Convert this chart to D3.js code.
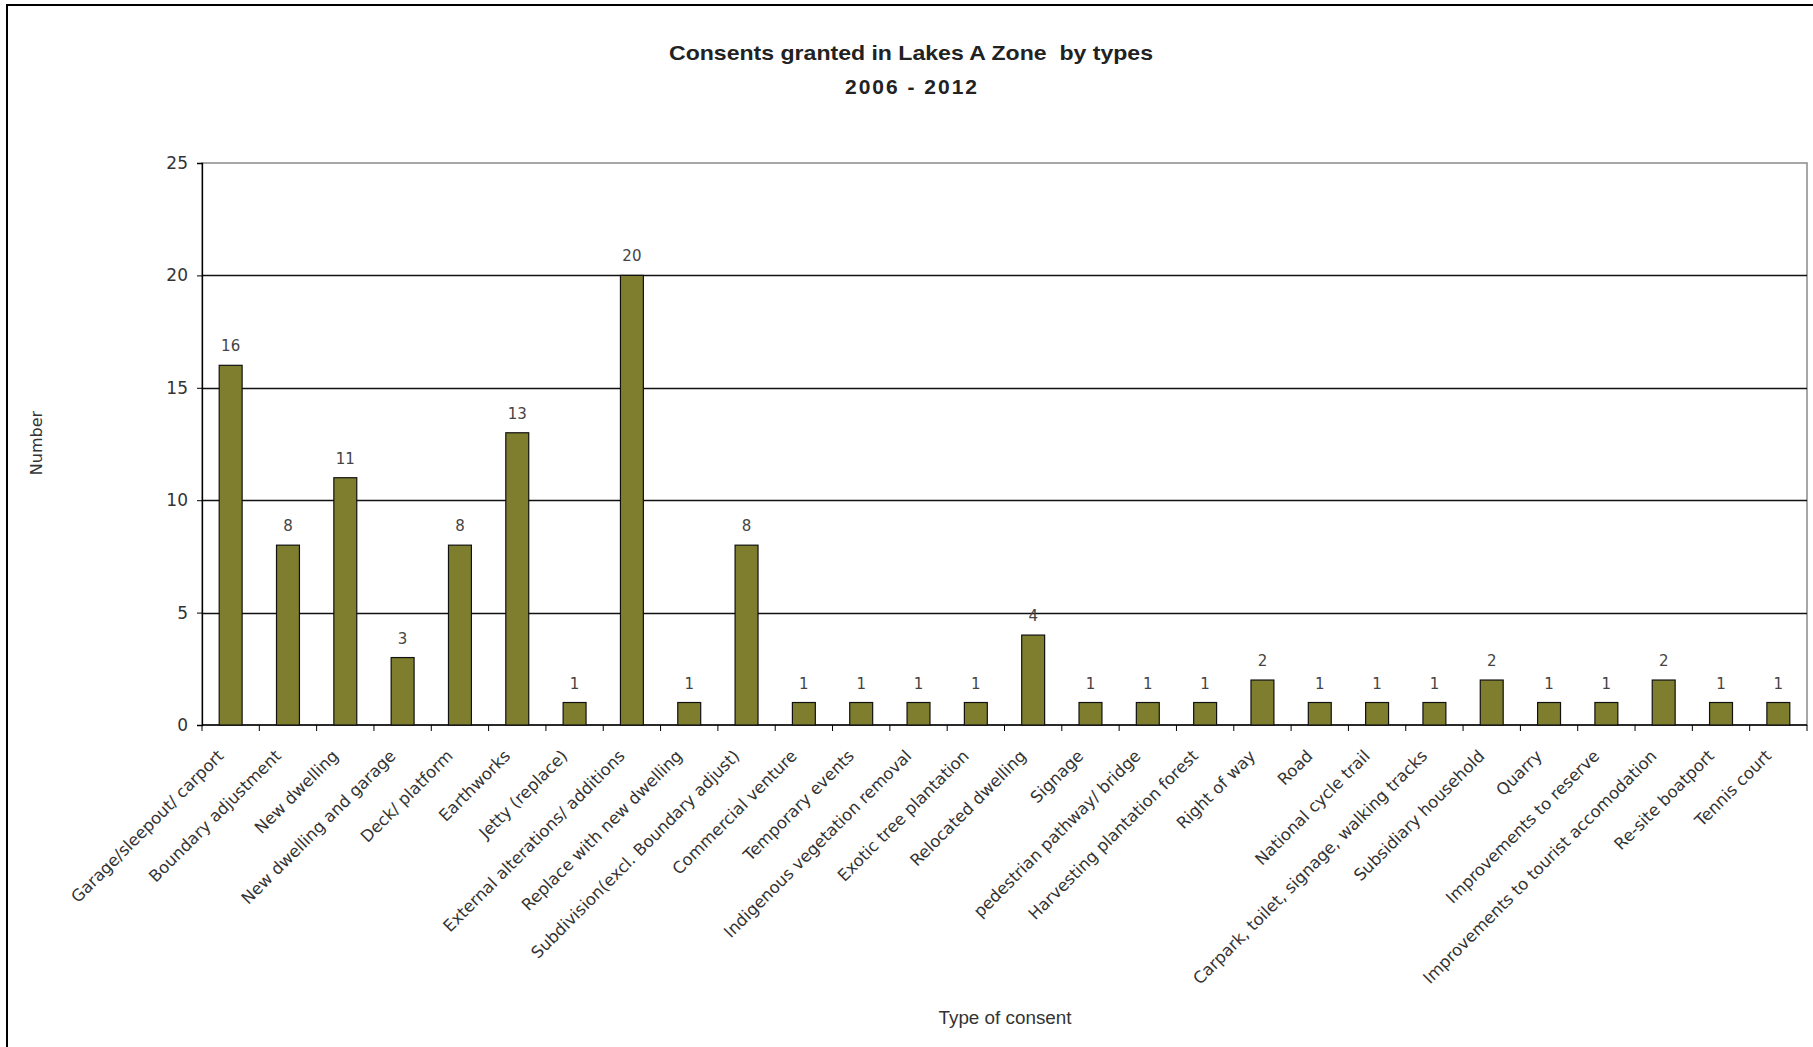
<!DOCTYPE html>
<html>
<head>
<meta charset="utf-8">
<script src="https://cdn.jsdelivr.net/npm/d3@7"></script>
<style>
  body { margin: 0; background: #fff; }
  text { fill: #222; }
</style>
</head>
<body>
<div id="chart"></div>
<script>
// consents granted, one bar per type
var categories = [
  'Garage/sleepout/ carport', 'Boundary adjustment', 'New dwelling', 'New dwelling and garage',
  'Deck/ platform', 'Earthworks', 'Jetty (replace)', 'External alterations/ additions',
  'Replace with new dwelling', 'Subdivision(excl. Boundary adjust)', 'Commercial venture',
  'Temporary events', 'Indigenous vegetation removal', 'Exotic tree plantation',
  'Relocated dwelling', 'Signage', 'pedestrian pathway/ bridge', 'Harvesting plantation forest',
  'Right of way', 'Road', 'National cycle trail', 'Carpark, toilet, signage, walking tracks',
  'Subsidiary household', 'Quarry', 'Improvements to reserve',
  'Improvements to tourist accomodation', 'Re-site boatport', 'Tennis court'
];
var values = [16, 8, 11, 3, 8, 13, 1, 20, 1, 8, 1, 1, 1, 1, 4, 1, 1, 1, 2, 1, 1, 1, 2, 1, 1, 2, 1, 1];
var yTicks = [0, 5, 10, 15, 20, 25];

var w = 1813;
var h = 1047;
var margin = {top: 163, right: 6, bottom: 322, left: 202};

var svg = d3.select('#chart')
  .append('svg')
  .attr('width', w)
  .attr('height', h);

// outer chart frame (cut off at right and bottom like the picture)
svg.append('rect')
  .attr('x', 7).attr('y', 5)
  .attr('width', w + 20).attr('height', h + 20)
  .attr('fill', 'none')
  .attr('stroke', '#000')
  .attr('stroke-width', 2);

var x = d3.scaleBand()
  .domain(categories)
  .range([margin.left, w - margin.right])
  .paddingInner(0.6)
  .paddingOuter(0.3);

var y = d3.scaleLinear()
  .domain([0, 25])
  .range([h - margin.bottom, margin.top]);

// plot area border
svg.append('rect')
  .attr('x', margin.left).attr('y', y(25))
  .attr('width', w - margin.right - margin.left)
  .attr('height', y(0) - y(25))
  .attr('fill', 'none')
  .attr('stroke', '#8a8a8a')
  .attr('stroke-width', 1.5);

// gridlines
svg.append('g')
  .selectAll('line')
  .data(yTicks.filter(d => d > 0 && d < 25))
  .enter()
  .append('line')
  .attr('x1', margin.left)
  .attr('x2', w - margin.right)
  .attr('y1', d => Math.round(y(d)) + 0.5)
  .attr('y2', d => Math.round(y(d)) + 0.5)
  .attr('stroke', '#111')
  .attr('stroke-width', 1.4);

// y axis
var yAxis = d3.axisLeft(y)
  .tickValues(yTicks)
  .tickSize(5)
  .tickPadding(9);

var gy = svg.append('g')
  .attr('transform', 'translate(' + margin.left + ',0)')
  .call(yAxis);
gy.select('.domain').attr('stroke', '#000').attr('stroke-width', 1.3);
gy.selectAll('.tick line').attr('stroke', '#000');
gy.selectAll('.tick text')
  .attr('font-family', 'DejaVu Sans, Verdana, sans-serif')
  .attr('font-size', 17)
  .style('fill', '#333');

// x axis: ticks sit between the categories
var step = x.step();
var edges = d3.range(categories.length + 1).map(i => margin.left + i * step);

svg.append('line')
  .attr('x1', margin.left).attr('x2', w - margin.right)
  .attr('y1', y(0)).attr('y2', y(0))
  .attr('stroke', '#000').attr('stroke-width', 1.5);

svg.append('g')
  .selectAll('line')
  .data(edges)
  .enter()
  .append('line')
  .attr('x1', d => d).attr('x2', d => d)
  .attr('y1', y(0)).attr('y2', y(0) + 6)
  .attr('stroke', '#000');

// bars
svg.append('g')
  .selectAll('rect')
  .data(values)
  .enter()
  .append('rect')
  .attr('x', (d, i) => x(categories[i]))
  .attr('y', d => y(d))
  .attr('width', x.bandwidth())
  .attr('height', d => y(0) - y(d))
  .attr('fill', '#7e7e2e')
  .attr('stroke', '#111')
  .attr('stroke-width', 1.2);

// value labels
svg.append('g')
  .selectAll('text')
  .data(values)
  .enter()
  .append('text')
  .text(d => d)
  .attr('x', (d, i) => x(categories[i]) + x.bandwidth() / 2)
  .attr('y', d => y(d) - 14)
  .attr('text-anchor', 'middle')
  .attr('font-family', 'DejaVu Sans, Verdana, sans-serif')
  .attr('font-size', 15)
  .style('fill', '#444');

// category labels, rotated
svg.append('g')
  .selectAll('text')
  .data(categories)
  .enter()
  .append('text')
  .text(d => d)
  .attr('text-anchor', 'end')
  .attr('font-family', 'DejaVu Sans, Verdana, sans-serif')
  .attr('font-size', 16.5)
  .style('fill', '#333')
  .attr('transform', d => {
    var cx = x(d) + x.bandwidth() / 2 - 6;
    var cy = y(0) + 32;
    return 'translate(' + cx + ',' + cy + ') rotate(-45)';
  });

// titles
svg.append('text')
  .attr('x', 911).attr('y', 60)
  .attr('text-anchor', 'middle')
  .attr('font-family', 'Liberation Sans, Arial, sans-serif')
  .attr('font-weight', 'bold')
  .attr('font-size', 21)
  .attr('textLength', 484)
  .attr('lengthAdjust', 'spacingAndGlyphs')
  .attr('xml:space', 'preserve')
  .text('Consents granted in Lakes A Zone  by types');

svg.append('text')
  .attr('x', 911).attr('y', 94)
  .attr('text-anchor', 'middle')
  .attr('font-family', 'Liberation Sans, Arial, sans-serif')
  .attr('font-weight', 'bold')
  .attr('font-size', 21)
  .attr('textLength', 132)
  .attr('lengthAdjust', 'spacing')
  .text('2006 - 2012');

svg.append('text')
  .attr('transform', 'translate(42,443) rotate(-90)')
  .attr('text-anchor', 'middle')
  .attr('font-family', 'DejaVu Sans, Verdana, sans-serif')
  .attr('font-size', 16)
  .style('fill', '#333')
  .text('Number');

svg.append('text')
  .attr('x', 1005).attr('y', 1024)
  .attr('text-anchor', 'middle')
  .attr('font-family', 'Liberation Sans, Arial, sans-serif')
  .attr('font-size', 18)
  .attr('textLength', 133)
  .attr('lengthAdjust', 'spacingAndGlyphs')
  .style('fill', '#333')
  .text('Type of consent');
</script>
</body>
</html>
